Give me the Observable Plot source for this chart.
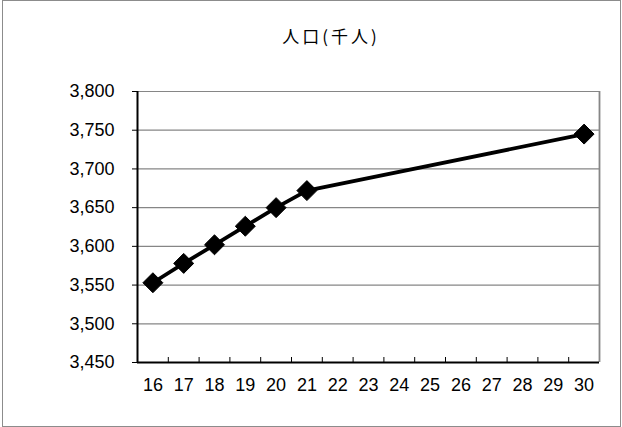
<!DOCTYPE html>
<html>
<head>
<meta charset="utf-8">
<script src="https://cdn.jsdelivr.net/npm/d3@7"></script>
<script src="https://cdn.jsdelivr.net/npm/@observablehq/plot@0.6"></script>
<style>
  html, body { margin: 0; padding: 0; background: #fff; }
  #frame {
    position: absolute; left: 2px; top: 0px;
    width: 619px; height: 427px; box-sizing: border-box;
    border: 1px solid #8c8c8c; background: #fff;
  }
  #title {
    position: absolute; left: 328px; top: 24px; transform: translateX(-50%);
    font-family: "Noto Sans CJK JP", sans-serif; font-size: 17px; color: #000;
    white-space: nowrap; line-height: 22px; letter-spacing: 3px;
  }
  #chart { position: absolute; left: 0px; top: 69px; }
  #chart svg { display: block; }
</style>
</head>
<body>
<div id="frame">
  <div id="title"></div>
  <div id="chart"></div>
</div>
<script>
const title = "人口(千人)";
const years = [16, 17, 18, 19, 20, 21, 30];
const population = [3553, 3578, 3602, 3626, 3650, 3672, 3745];
const xCategories = [16, 17, 18, 19, 20, 21, 22, 23, 24, 25, 26, 27, 28, 29, 30];
const yTicks = [3450, 3500, 3550, 3600, 3650, 3700, 3750, 3800];

document.getElementById("title").textContent = title;

const data = years.map((yr, i) => ({year: yr, value: population[i]}));
const boundaries = xCategories.map(c => c - 0.5).concat([xCategories[xCategories.length - 1] + 0.5]);
const xDomain = [boundaries[0], boundaries[boundaries.length - 1]];
const yDomain = [yTicks[0], yTicks[yTicks.length - 1]];

const font = "'Liberation Sans', Arial, sans-serif";

const chart = Plot.plot({
  width: 617,
  height: 356,
  marginLeft: 134,
  marginRight: 21,
  marginTop: 21,
  marginBottom: 64,
  style: {fontFamily: font, fontSize: "18px", color: "#000", background: "#fff"},
  x: {type: "linear", domain: xDomain},
  y: {type: "linear", domain: yDomain},
  marks: [
    Plot.ruleY(yTicks.slice(1), {y: d => d, stroke: "#868686", strokeWidth: 1.2}),
    Plot.ruleX([xDomain[1]], {x: d => d, stroke: "#868686", strokeWidth: 1.8}),
    Plot.ruleX(boundaries.slice(1, -1), {x: d => d, y1: yDomain[0], y2: yDomain[0], insetBottom: 5, stroke: "#000", strokeWidth: 1}),
    Plot.ruleX([xDomain[0]], {x: d => d, stroke: "#000", strokeWidth: 2}),
    Plot.ruleY([yDomain[0]], {y: d => d, stroke: "#000", strokeWidth: 2}),
    Plot.axisY({ticks: yTicks, tickFormat: d3.format(","), tickSize: 5, tickPadding: 18, fontSize: 18, label: null, stroke: "#000"}),
    Plot.axisX({ticks: xCategories, tickFormat: d => String(d), tickSize: 0, tickPadding: 16, fontSize: 18, label: null}),
    Plot.line(data, {x: "year", y: "value", stroke: "#000", strokeWidth: 3.8}),
    Plot.dot(data, {x: "year", y: "value", symbol: "diamond2", r: 9, fill: "#000", stroke: "#000", strokeWidth: 1})
  ]
});
document.getElementById("chart").appendChild(chart);
</script>
</body>
</html>
